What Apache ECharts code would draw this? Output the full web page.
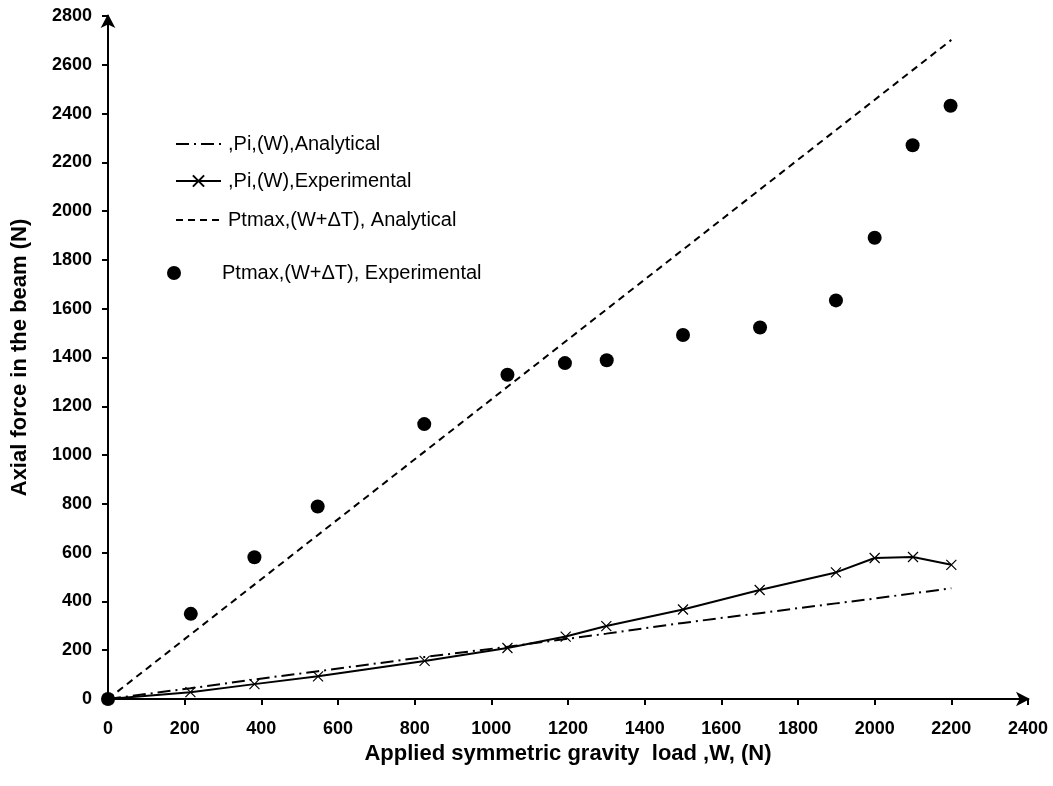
<!DOCTYPE html>
<html>
<head>
<meta charset="utf-8">
<script src="https://cdn.jsdelivr.net/npm/echarts@6/dist/echarts.min.js"></script>
<style>
  html, body { margin: 0; padding: 0; background: #fff; }
  #chart { width: 1053px; height: 786px; }
</style>
</head>
<body>
<div id="chart"></div>
<script>
// load W (N)
const loadW = [0, 215, 382, 548, 826, 1042, 1194, 1300, 1500, 1700, 1899, 2000, 2100, 2200];
// Pi (W) experimental
const piExp = [0, 28, 61, 93, 156, 209, 256, 299, 367, 447, 519, 578, 582, 550];
// Pi (W) analytical
const piAna = [0, 44, 80, 114, 172, 214, 246, 268, 312, 352, 392, 412, 433, 454];
// Ptmax (W+dT) experimental
const ptExpW = [0, 216, 382, 547, 825, 1042, 1192, 1301, 1500, 1701, 1899, 2000, 2099, 2198];
const ptExp = [0, 349, 581, 789, 1127, 1329, 1377, 1389, 1492, 1523, 1634, 1891, 2270, 2432];
// Ptmax (W+dT) analytical
const ptAnaW = [0, 2200];
const ptAna = [0, 2702];

const names = [
  ',Pi,(W),Analytical',
  ',Pi,(W),Experimental',
  'Ptmax,(W+\u0394T), Analytical',
  'Ptmax,(W+\u0394T), Experimental'
];

const pairs = (xs, ys) => xs.map((x, i) => [x, ys[i]]);
const font = 'Liberation Sans, Arial, sans-serif';

const chart = echarts.init(document.getElementById('chart'));

// one legend box per entry, the original spaces them unevenly
const legendTops = [129, 166, 205, 258];
const legendItem = (n, i) => {
  if (i === 0 || i === 2) return { name: n, itemStyle: { opacity: 0 } }; // line only
  return n;
};
const legends = names.map((n, i) => ({
  left: i === 3 ? 162 : 170,
  top: legendTops[i],
  data: [legendItem(n, i)],
  itemWidth: i === 3 ? 14 : 45,
  itemHeight: 14,
  itemGap: 0,
  textStyle: {
    fontFamily: font, fontSize: 20, color: '#000',
    padding: i === 3 ? [0, 0, 0, 36] : [0, 0, 0, 2]
  },
  selectedMode: false
}));

chart.setOption({
  animation: false,
  backgroundColor: '#fff',
  legend: legends,
  grid: { left: 108, right: 25, top: 16, bottom: 87, containLabel: false },
  xAxis: {
    type: 'value',
    min: 0,
    max: 2400,
    interval: 200,
    name: 'Applied symmetric gravity  load ,W, (N)',
    nameLocation: 'middle',
    nameGap: 40,
    nameTextStyle: { fontFamily: font, fontSize: 22, fontWeight: 'bold', color: '#000' },
    axisLine: { show: true, lineStyle: { color: '#000', width: 2 }, symbol: ['none', 'arrow'], symbolSize: [11, 14], symbolOffset: [0, 2] },
    axisTick: { show: true, inside: false, length: 6, lineStyle: { color: '#000', width: 2 } },
    axisLabel: { fontFamily: font, fontSize: 18, fontWeight: 'bold', color: '#000', margin: 21, formatter: (v) => String(v) },
    splitLine: { show: false }
  },
  yAxis: {
    type: 'value',
    min: 0,
    max: 2800,
    interval: 200,
    name: 'Axial force in the beam (N)',
    nameLocation: 'middle',
    nameGap: 77,
    nameTextStyle: { fontFamily: font, fontSize: 22, fontWeight: 'bold', color: '#000' },
    axisLine: { show: true, lineStyle: { color: '#000', width: 2 }, symbol: ['none', 'arrow'], symbolSize: [11, 14], symbolOffset: [0, 2] },
    axisTick: { show: true, inside: false, length: 6, lineStyle: { color: '#000', width: 2 } },
    axisLabel: { fontFamily: font, fontSize: 18, fontWeight: 'bold', color: '#000', margin: 16, formatter: (v) => String(v) },
    splitLine: { show: false }
  },
  series: [
    {
      name: names[0],
      type: 'line',
      data: pairs(loadW, piAna),
      symbol: 'none',
      lineStyle: { color: '#000', width: 2, type: [13, 5, 2, 5] },
      itemStyle: { color: '#000' },
      z: 3
    },
    {
      name: names[1],
      type: 'line',
      data: pairs(loadW, piExp),
      symbol: 'path://M0,0L10,10M10,0L0,10',
      symbolSize: 10,
      lineStyle: { color: '#000', width: 2, type: 'solid' },
      itemStyle: { color: 'none', borderColor: '#000', borderWidth: 1.2 },
      z: 4
    },
    {
      name: names[2],
      type: 'line',
      data: pairs(ptAnaW, ptAna),
      symbol: 'none',
      lineStyle: { color: '#000', width: 2, type: [7, 5] },
      itemStyle: { color: '#000' },
      z: 3
    },
    {
      name: names[3],
      type: 'scatter',
      data: pairs(ptExpW, ptExp),
      symbol: 'circle',
      symbolSize: 14,
      itemStyle: { color: '#000', opacity: 1 },
      z: 5
    }
  ]
});
</script>
</body>
</html>
